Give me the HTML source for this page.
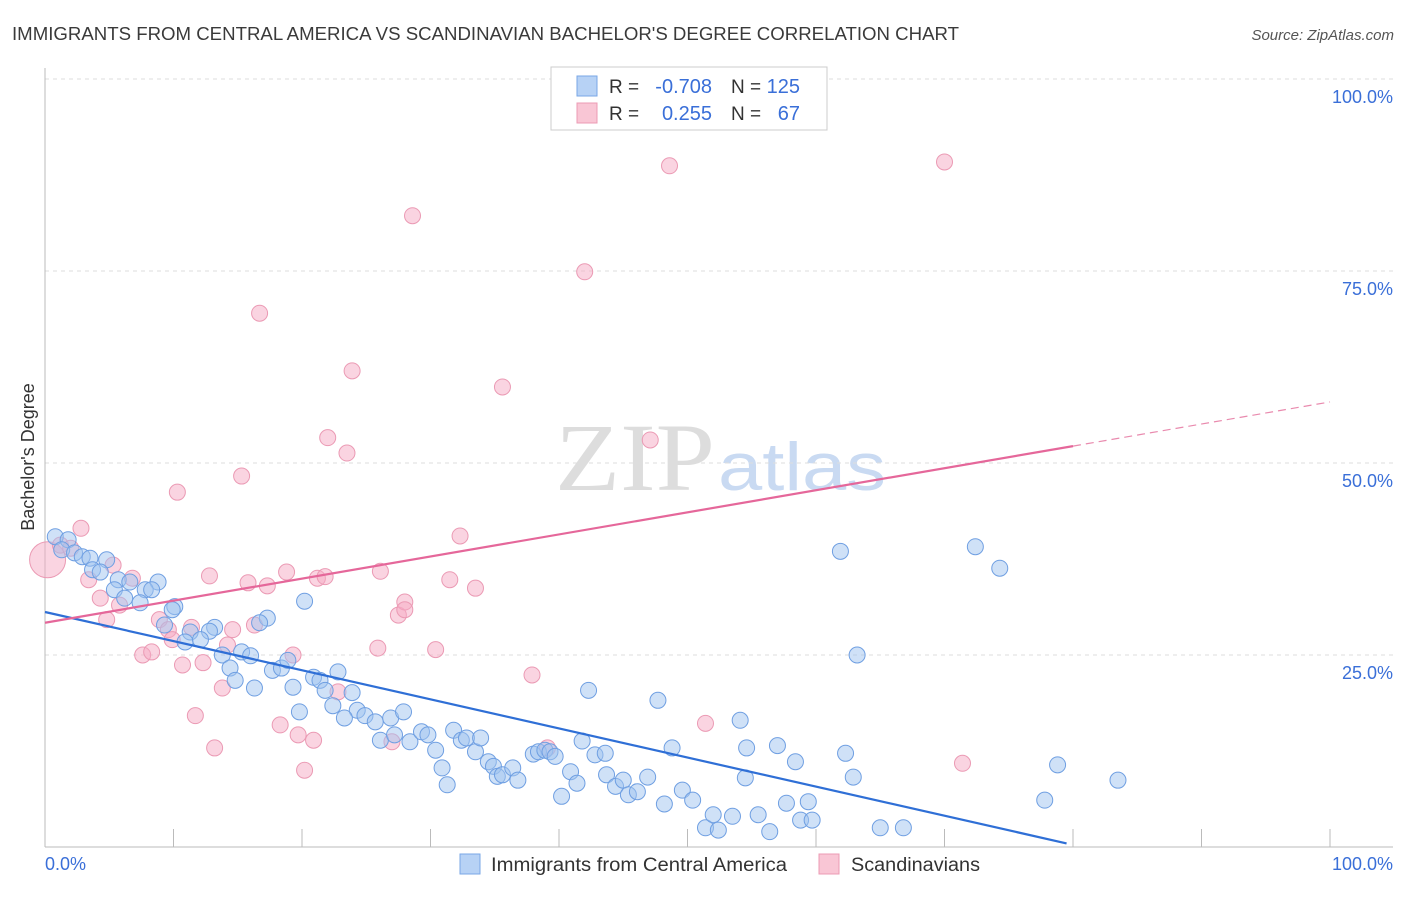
<!DOCTYPE html>
<html><head><meta charset="utf-8"><style>
body{margin:0;background:#fff;font-family:"Liberation Sans",sans-serif}
svg text{font-family:"Liberation Sans",sans-serif}
</style></head><body>
<svg id="c" width="1406" height="892">
<text x="12" y="40" font-size="18" fill="#3a3a3a" textLength="947" lengthAdjust="spacingAndGlyphs">IMMIGRANTS FROM CENTRAL AMERICA VS SCANDINAVIAN BACHELOR'S DEGREE CORRELATION CHART</text>
<text x="1394" y="40" font-size="15" fill="#555" font-style="italic" text-anchor="end">Source: ZipAtlas.com</text>
<text transform="translate(34,457) rotate(-90)" font-size="18" fill="#333" text-anchor="middle">Bachelor's Degree</text>
<text x="555" y="490" font-size="96" fill="#ddd" textLength="160" lengthAdjust="spacingAndGlyphs" style="font-family:'Liberation Serif',serif">ZIP</text>
<text x="718" y="490" font-size="68" fill="#c9daf2" textLength="168" lengthAdjust="spacingAndGlyphs">atlas</text>
<g id="grid"></g><g id="marks"></g>
<g>
<rect x="551" y="67" width="276" height="63" fill="#fff" stroke="#ccc"/>
<rect x="577" y="76" width="20" height="20" fill="#b7d2f5" stroke="#7aa7e6"/>
<rect x="577" y="103" width="20" height="20" fill="#f9c6d5" stroke="#ec9bb4"/>
<text x="609" y="93" font-size="19" fill="#333">R =</text>
<text x="712" y="93" font-size="20" fill="#3a6fd8" text-anchor="end">-0.708</text>
<text x="731" y="93" font-size="19" fill="#333">N =</text>
<text x="800" y="93" font-size="20" fill="#3a6fd8" text-anchor="end">125</text>
<text x="609" y="120" font-size="19" fill="#333">R =</text>
<text x="712" y="120" font-size="20" fill="#3a6fd8" text-anchor="end">0.255</text>
<text x="731" y="120" font-size="19" fill="#333">N =</text>
<text x="800" y="120" font-size="20" fill="#3a6fd8" text-anchor="end">67</text>
</g>
<g>
<rect x="460" y="854" width="20" height="20" fill="#b7d2f5" stroke="#7aa7e6"/>
<text x="491" y="871" font-size="19" fill="#333" textLength="296" lengthAdjust="spacingAndGlyphs">Immigrants from Central America</text>
<rect x="819" y="854" width="20" height="20" fill="#f9c6d5" stroke="#ec9bb4"/>
<text x="851" y="871" font-size="19" fill="#333" textLength="129" lengthAdjust="spacingAndGlyphs">Scandinavians</text>
</g>
</svg>
<script>
const blueX=[0.8,1.8,1.3,2.3,2.9,3.5,4.8,3.7,4.3,5.7,6.6,8.8,5.4,7.8,8.3,6.2,7.4,10.1,9.9,20.2,9.3,11.3,13.2,12.8,17.3,16.7,10.9,12.1,13.8,15.3,16,14.4,14.8,16.3,17.7,18.4,18.9,19.3,20.9,21.4,22.8,21.8,23.9,19.8,22.4,24.3,23.3,24.9,25.7,26.9,27.9,26.1,27.2,28.4,29.3,29.8,30.4,30.9,31.3,31.8,32.4,32.8,33.5,33.9,34.5,34.9,35.2,35.6,36.4,36.8,38,38.4,38.9,39.3,39.7,40.2,40.9,41.4,41.8,42.3,42.8,43.6,43.7,44.4,45,45.4,46.1,46.9,47.7,48.2,48.8,49.6,50.4,51.4,52,52.4,53.5,54.1,54.5,54.6,55.5,56.4,57,57.7,58.4,58.8,59.4,59.7,61.9,62.3,62.9,63.2,65,66.8,72.4,74.3,77.8,78.8,83.5];
const blueY=[40.4,40,38.7,38.3,37.8,37.6,37.4,36.1,35.8,34.8,34.5,34.5,33.5,33.5,33.5,32.4,31.8,31.3,30.9,32,28.9,28,28.6,28.1,29.8,29.2,26.7,27,25,25.4,24.9,23.3,21.7,20.7,23,23.3,24.3,20.8,22.1,21.7,22.8,20.4,20.1,17.6,18.4,17.8,16.8,17.1,16.3,16.8,17.6,13.9,14.6,13.7,15,14.6,12.6,10.3,8.1,15.2,13.9,14.2,12.4,14.2,11.1,10.5,9.2,9.4,10.3,8.7,12.1,12.4,12.6,12.4,11.8,6.6,9.8,8.3,13.8,20.4,12,12.2,9.4,7.9,8.7,6.8,7.2,9.1,19.1,5.6,12.9,7.4,6.1,2.5,4.2,2.2,4,16.5,9,12.9,4.2,2,13.2,5.7,11.1,3.5,5.9,3.5,38.5,12.2,9.1,25,2.5,2.5,39.1,36.3,6.1,10.7,8.7];
const pinkX=[0.2,2.8,1.2,2,3.4,4.3,5.3,5.8,4.8,6.8,7.6,8.3,8.9,9.6,9.9,10.3,10.7,11.4,11.7,12.3,12.8,13.2,13.8,14.2,14.6,15.3,15.8,16.3,16.7,17.3,18.3,18.8,19.3,19.7,20.2,20.9,21.2,21.8,22,22.8,23.5,23.9,25.9,26.1,27,27.5,28,28,28.6,30.4,31.5,32.3,33.5,35.6,37.9,39.1,42,47.1,48.6,51.4,70,71.4];
const pinkY=[37.4,41.5,39.3,38.9,34.8,32.4,36.7,31.5,29.6,35,25,25.4,29.6,28.3,27,46.2,23.7,28.6,17.1,24,35.3,12.9,20.7,26.3,28.3,48.3,34.4,28.9,69.5,34,15.9,35.8,25,14.6,10,13.9,35,35.2,53.3,20.2,51.3,62,25.9,35.9,13.7,30.2,31.9,30.9,82.2,25.7,34.8,40.5,33.7,59.9,22.4,12.9,74.9,53,88.7,16.1,89.2,10.9];
const blueTrend=[30.6,-0.379,79.5];
const pinkTrend=[29.2,0.2875,80];
const yTicks=[25,50,75,100];
const NS='http://www.w3.org/2000/svg';
const X=v=>45+v*12.85, Y=v=>847-v*7.68;
function mk(t,a,p){const e=document.createElementNS(NS,t);for(const k in a)e.setAttribute(k,a[k]);p.appendChild(e);return e;}
const g=document.getElementById('grid'),m=document.getElementById('marks');
yTicks.forEach(t=>{const l=mk('line',{x1:45,x2:1393,y1:Y(t),y2:Y(t),stroke:'#ddd','stroke-dasharray':'4,4'},g);


const tx=mk('text',{x:1393,y:Y(t)+24,'font-size':18,fill:'#3a6fd8','text-anchor':'end'},g);tx.textContent=t+'.0%';

});
mk('line',{x1:45,x2:45,y1:68,y2:847,stroke:'#bbb'},g);
mk('line',{x1:45,x2:1393,y1:847,y2:847,stroke:'#bbb'},g);
for(let i=1;i<=10;i++){const l=mk('line',{x1:X(i*10),x2:X(i*10),y1:829,y2:847,stroke:'#bbb'},g);

}
[['0.0%',45,'start'],['100.0%',1393,'end']].forEach(a=>{const t=mk('text',{x:a[1],y:870,'font-size':18,fill:'#3a6fd8','text-anchor':a[2]},g);t.textContent=a[0];

});
pinkX.forEach((x,i)=>{const c=mk('circle',{cx:X(x),cy:Y(pinkY[i]),r:i==0?18:8,fill:'rgba(245,170,195,0.5)',stroke:'#eb9ab4','stroke-width':1},m);

});
blueX.forEach((x,i)=>{const c=mk('circle',{cx:X(x),cy:Y(blueY[i]),r:8,fill:'rgba(160,196,240,0.5)',stroke:'#6f9fe2','stroke-width':1},m);

});
let l=mk('line',{x1:X(0),y1:Y(blueTrend[0]),x2:X(blueTrend[2]),y2:Y(blueTrend[0]+blueTrend[1]*blueTrend[2]),stroke:'#2f6fd6','stroke-width':2.2},m);


l=mk('line',{x1:X(0),y1:Y(pinkTrend[0]),x2:X(pinkTrend[2]),y2:Y(pinkTrend[0]+pinkTrend[1]*pinkTrend[2]),stroke:'#e5679a','stroke-width':2.2},m);


l=mk('line',{x1:X(pinkTrend[2]),y1:Y(pinkTrend[0]+pinkTrend[1]*pinkTrend[2]),x2:X(100),y2:Y(pinkTrend[0]+pinkTrend[1]*100),stroke:'#e98aae','stroke-width':1.2,'stroke-dasharray':'8,5'},m);


</script>
</body></html>
